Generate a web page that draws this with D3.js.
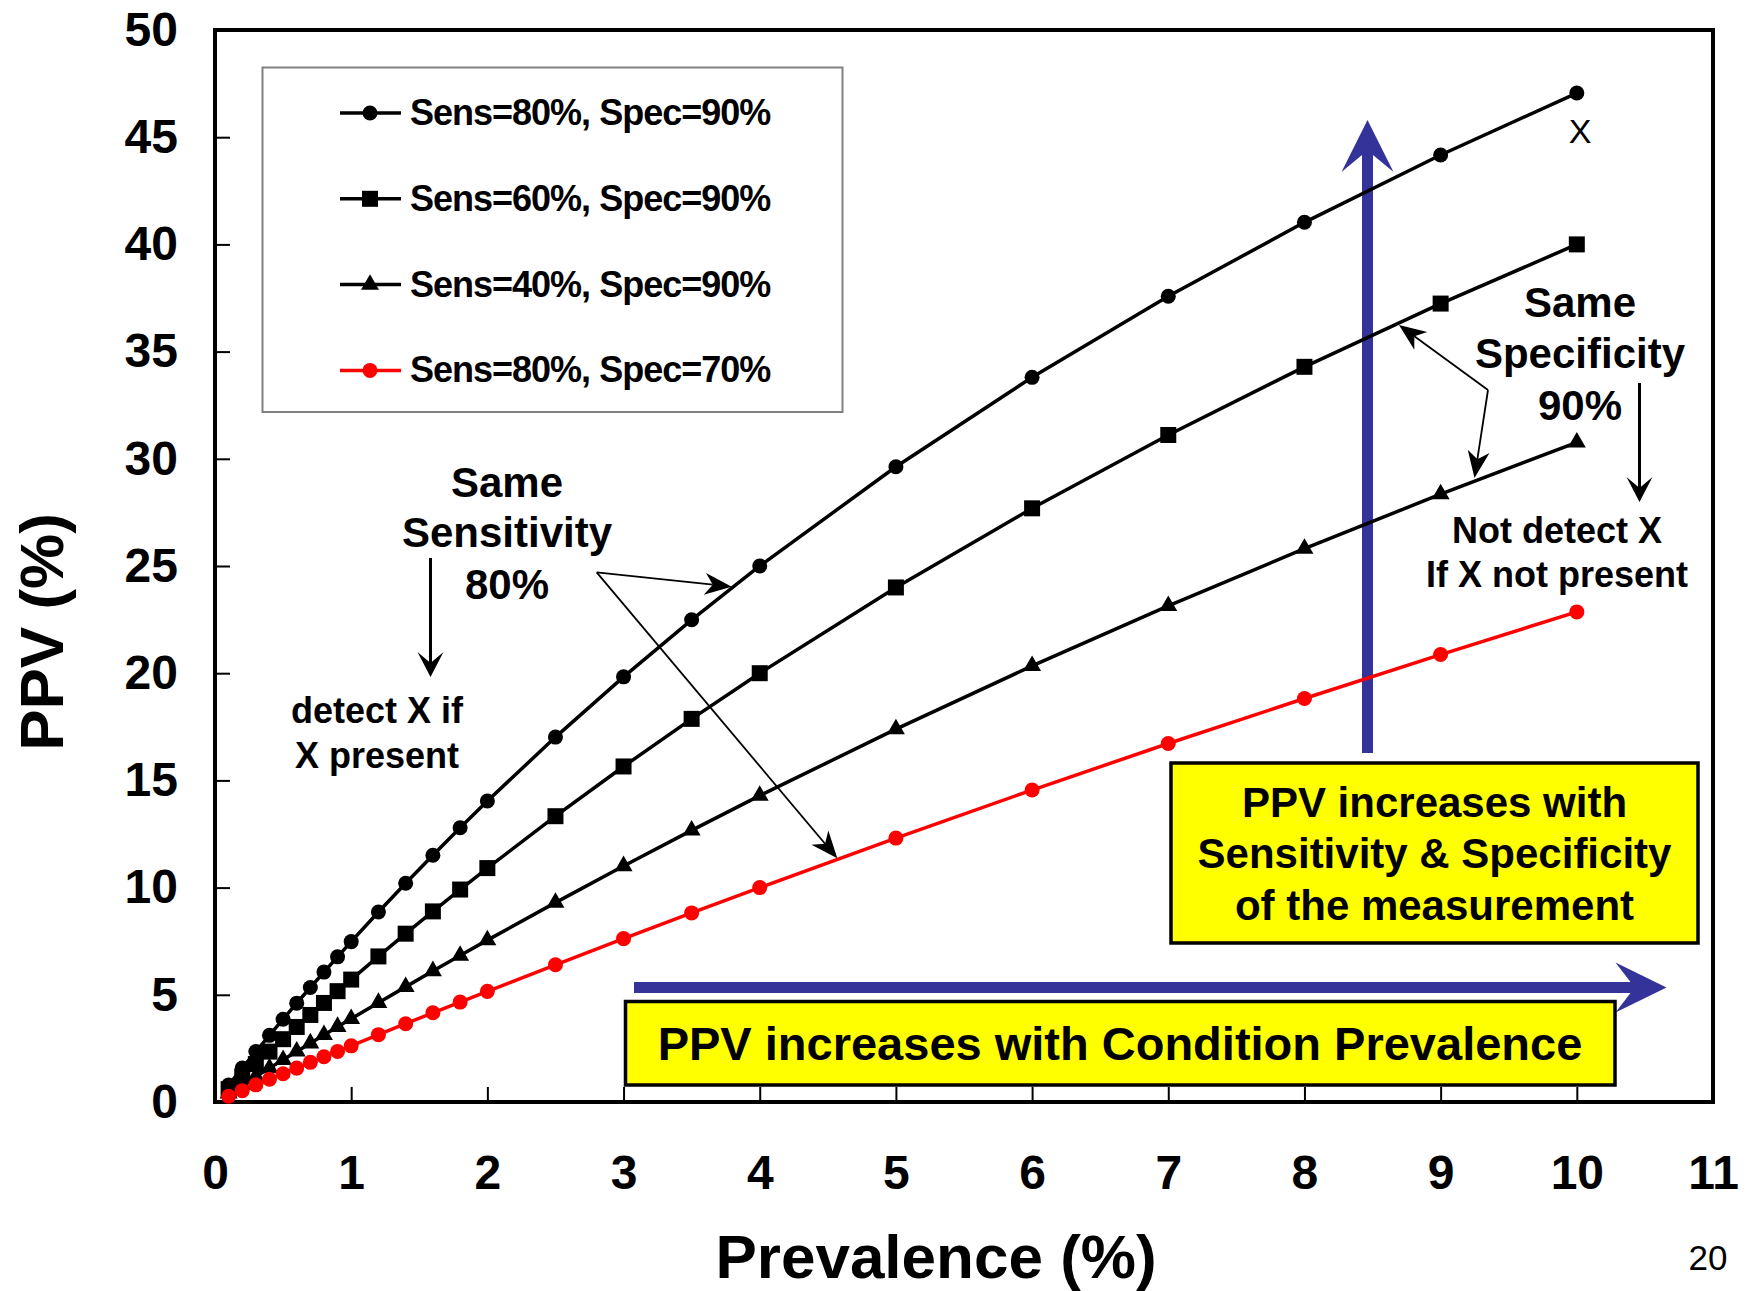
<!DOCTYPE html>
<html>
<head>
<meta charset="utf-8">
<script src="https://cdn.jsdelivr.net/npm/d3@7"></script>
<style>
  body { margin: 0; background: #fff; }
  text { font-family: "Liberation Sans", Arial, sans-serif; }
</style>
</head>
<body>
<script>
const WIDTH = 1745;
const HEIGHT = 1291;

// prevalence (%) read along the x axis
const prevalence = [0.1, 0.2, 0.3, 0.4, 0.5, 0.6, 0.7, 0.8, 0.9, 1.0, 1.2, 1.4, 1.6, 1.8, 2.0, 2.5, 3, 3.5, 4, 5, 6, 7, 8, 9, 10];

// PPV (%) for each curve
const sens80spec90 = [0.79, 1.58, 2.35, 3.11, 3.86, 4.61, 5.34, 6.06, 6.77, 7.48, 8.86, 10.2, 11.51, 12.79, 14.04, 17.02, 19.83, 22.49, 25.0, 29.63, 33.8, 37.58, 41.03, 44.17, 47.06];
const sens60spec90 = [0.6, 1.19, 1.77, 2.35, 2.93, 3.5, 4.06, 4.62, 5.17, 5.71, 6.79, 7.85, 8.89, 9.91, 10.91, 13.33, 15.65, 17.87, 20.0, 24.0, 27.69, 31.11, 34.29, 37.24, 40.0];
const sens40spec90 = [0.4, 0.8, 1.19, 1.58, 1.97, 2.36, 2.74, 3.13, 3.51, 3.88, 4.63, 5.37, 6.11, 6.83, 7.55, 9.3, 11.01, 12.67, 14.29, 17.39, 20.34, 23.14, 25.81, 28.35, 30.77];
const sens80spec70 = [0.27, 0.53, 0.8, 1.06, 1.32, 1.58, 1.85, 2.11, 2.36, 2.62, 3.14, 3.65, 4.16, 4.66, 5.16, 6.4, 7.62, 8.82, 10.0, 12.31, 14.55, 16.72, 18.82, 20.87, 22.86];

const seriesNames = ["Sens=80%, Spec=90%", "Sens=60%, Spec=90%", "Sens=40%, Spec=90%", "Sens=80%, Spec=70%"];
const seriesShapes = ["circle", "square", "triangle", "circle"];
const seriesColors = ["#000000", "#000000", "#000000", "#ff0000"];

const xTickValues = [0, 1, 2, 3, 4, 5, 6, 7, 8, 9, 10, 11];
const yTickValues = [0, 5, 10, 15, 20, 25, 30, 35, 40, 45, 50];

const series = [sens80spec90, sens60spec90, sens40spec90, sens80spec70].map((vals, i) => ({
  name: seriesNames[i],
  shape: seriesShapes[i],
  color: seriesColors[i],
  points: prevalence.map((p, j) => ({ x: p, y: vals[j] }))
}));

const LEFT = 215, RIGHT = 1713, TOP = 30, BOTTOM = 1102;
const BLUE = "#333399";
const FONT = "'Liberation Sans', Arial, sans-serif";

let svg = d3.select("body")
            .append("svg")
            .attr("width", WIDTH)
            .attr("height", HEIGHT);

let x = d3.scaleLinear().domain([0, 11]).range([LEFT, RIGHT]);
let y = d3.scaleLinear().domain([0, 50]).range([BOTTOM, TOP]);

const symbolFor = (shape) => {
  if (shape === "square") return d3.symbol().type(d3.symbolSquare).size(256)();
  if (shape === "triangle") return d3.symbol().type(d3.symbolTriangle).size(140)();
  return d3.symbol().type(d3.symbolCircle).size(177)();
};

// axes, ticks inward
let xAxis = svg.append("g")
               .attr("transform", `translate(0,${BOTTOM})`)
               .call(d3.axisBottom(x).tickValues(xTickValues).tickSizeInner(-15).tickSizeOuter(0).tickPadding(53));
let yAxis = svg.append("g")
               .attr("transform", `translate(${LEFT},0)`)
               .call(d3.axisLeft(y).tickValues(yTickValues).tickSizeInner(-15).tickSizeOuter(0).tickPadding(37));

[xAxis, yAxis].forEach(a => {
  a.select(".domain").remove();
  a.selectAll(".tick line").attr("stroke", "#000").attr("stroke-width", 2);
  a.selectAll(".tick text")
   .attr("fill", "#000")
   .style("font-family", FONT)
   .style("font-weight", "bold")
   .style("font-size", "48px");
});

// plot frame
svg.append("rect")
   .attr("x", LEFT).attr("y", TOP)
   .attr("width", RIGHT - LEFT).attr("height", BOTTOM - TOP)
   .attr("fill", "none").attr("stroke", "#000").attr("stroke-width", 4);

// axis titles
svg.append("text")
   .attr("x", 936).attr("y", 1278)
   .attr("text-anchor", "middle")
   .style("font-weight", "bold").style("font-size", "62px")
   .text("Prevalence (%)");

svg.append("text")
   .attr("transform", "translate(63,632) rotate(-90)")
   .attr("text-anchor", "middle")
   .style("font-weight", "bold").style("font-size", "62px")
   .text("PPV (%)");

svg.append("text")
   .attr("x", 1708).attr("y", 1270)
   .attr("text-anchor", "middle")
   .style("font-size", "35px")
   .text("20");

// blue arrows
const drawBlueArrowUp = () => {
  const cx = 1367.5, tipY = 120, bottomY = 753;
  const p = d3.path();
  p.moveTo(cx, tipY);
  p.lineTo(cx + 26, tipY + 52);
  p.lineTo(cx + 5.5, tipY + 35);
  p.lineTo(cx + 5.5, bottomY);
  p.lineTo(cx - 5.5, bottomY);
  p.lineTo(cx - 5.5, tipY + 35);
  p.lineTo(cx - 26, tipY + 52);
  p.closePath();
  svg.append("path").attr("d", p.toString()).attr("fill", BLUE);
};

const drawBlueArrowRight = () => {
  const cy = 987.5, tipX = 1666.5, leftX = 634;
  const p = d3.path();
  p.moveTo(tipX, cy);
  p.lineTo(tipX - 51, cy + 25);
  p.lineTo(tipX - 36, cy + 5.5);
  p.lineTo(leftX, cy + 5.5);
  p.lineTo(leftX, cy - 5.5);
  p.lineTo(tipX - 36, cy - 5.5);
  p.lineTo(tipX - 51, cy - 25);
  p.closePath();
  svg.append("path").attr("d", p.toString()).attr("fill", BLUE);
};

drawBlueArrowUp();
drawBlueArrowRight();

// series lines and markers
const line = d3.line().x(d => x(d.x)).y(d => y(d.y));

series.forEach(s => {
  svg.append("path")
     .datum(s.points)
     .attr("d", line)
     .attr("fill", "none")
     .attr("stroke", s.color)
     .attr("stroke-width", 3.5);
});

series.forEach(s => {
  svg.selectAll(null)
     .data(s.points)
     .enter().append("path")
     .attr("d", symbolFor(s.shape))
     .attr("transform", d => `translate(${x(d.x)},${y(d.y)})`)
     .attr("fill", s.color);
});

// legend
svg.append("rect")
   .attr("x", 262.5).attr("y", 67.5)
   .attr("width", 580).attr("height", 344.5)
   .attr("fill", "#fff").attr("stroke", "#808080").attr("stroke-width", 2);

series.forEach((s, i) => {
  const ly = 113 + i * 85.8;
  svg.append("line")
     .attr("x1", 340).attr("x2", 401).attr("y1", ly).attr("y2", ly)
     .attr("stroke", s.color).attr("stroke-width", 3.5);
  svg.append("path")
     .attr("d", symbolFor(s.shape))
     .attr("transform", `translate(370,${ly})`)
     .attr("fill", s.color);
  svg.append("text")
     .attr("x", 410).attr("y", ly + 12)
     .style("font-weight", "bold").style("font-size", "36px")
     .style("letter-spacing", "-1px")
     .text(s.name);
});

// annotation arrows
const arrowHead = (tx, ty, fx, fy, len, hw, notch) => {
  const dx = tx - fx, dy = ty - fy, L = Math.hypot(dx, dy);
  const ux = dx / L, uy = dy / L, nx = -uy, ny = ux;
  const p = d3.path();
  p.moveTo(tx, ty);
  p.lineTo(tx - len * ux + hw * nx, ty - len * uy + hw * ny);
  p.lineTo(tx - notch * ux, ty - notch * uy);
  p.lineTo(tx - len * ux - hw * nx, ty - len * uy - hw * ny);
  p.closePath();
  svg.append("path").attr("d", p.toString()).attr("fill", "#000");
};

const arrow = (fx, fy, tx, ty, w, len, hw, notch) => {
  const dx = tx - fx, dy = ty - fy, L = Math.hypot(dx, dy);
  svg.append("line")
     .attr("x1", fx).attr("y1", fy)
     .attr("x2", tx - dx / L * notch).attr("y2", ty - dy / L * notch)
     .attr("stroke", "#000").attr("stroke-width", w);
  arrowHead(tx, ty, fx, fy, len, hw, notch);
};

// same sensitivity
arrow(596.7, 572.3, 731.7, 586.7, 1.8, 27, 11, 19);
arrow(596.7, 572.3, 837.3, 858.3, 1.8, 27, 11, 19);
arrow(430.5, 558, 430.5, 677, 3, 25, 13, 14);

// same specificity
arrow(1488, 390, 1399, 325, 1.8, 27, 11, 19);
arrow(1488, 390, 1474.5, 478, 1.8, 27, 11, 19);
arrow(1639.5, 383, 1639.5, 502, 3, 25, 13, 14);

const textBlock = (lines, cx, baselines, size, weight) => {
  lines.forEach((t, i) => {
    svg.append("text")
       .attr("x", cx).attr("y", baselines[i])
       .attr("text-anchor", "middle")
       .style("font-weight", weight).style("font-size", size + "px")
       .text(t);
  });
};

textBlock(["Same", "Sensitivity", "80%"], 507, [497, 547, 599], 42, "bold");
textBlock(["detect X if", "X present"], 377, [723, 768], 36, "bold");
textBlock(["Same", "Specificity", "90%"], 1580, [317, 368, 420], 42, "bold");
textBlock(["Not detect X", "If X not present"], 1557, [543, 587], 36, "bold");
textBlock(["X"], 1580, [143], 34, "normal");

// yellow boxes
svg.append("rect")
   .attr("x", 1171).attr("y", 763).attr("width", 527).attr("height", 180)
   .attr("fill", "#ffff00").attr("stroke", "#000").attr("stroke-width", 3.5);
textBlock(["PPV increases with", "Sensitivity & Specificity", "of the measurement"], 1434.5, [817, 868, 920], 42, "bold");

svg.append("rect")
   .attr("x", 625.5).attr("y", 1001.5).attr("width", 989.5).attr("height", 83.5)
   .attr("fill", "#ffff00").attr("stroke", "#000").attr("stroke-width", 3.5);
textBlock(["PPV increases with Condition Prevalence"], 1120, [1060], 47, "bold");
</script>
</body>
</html>
